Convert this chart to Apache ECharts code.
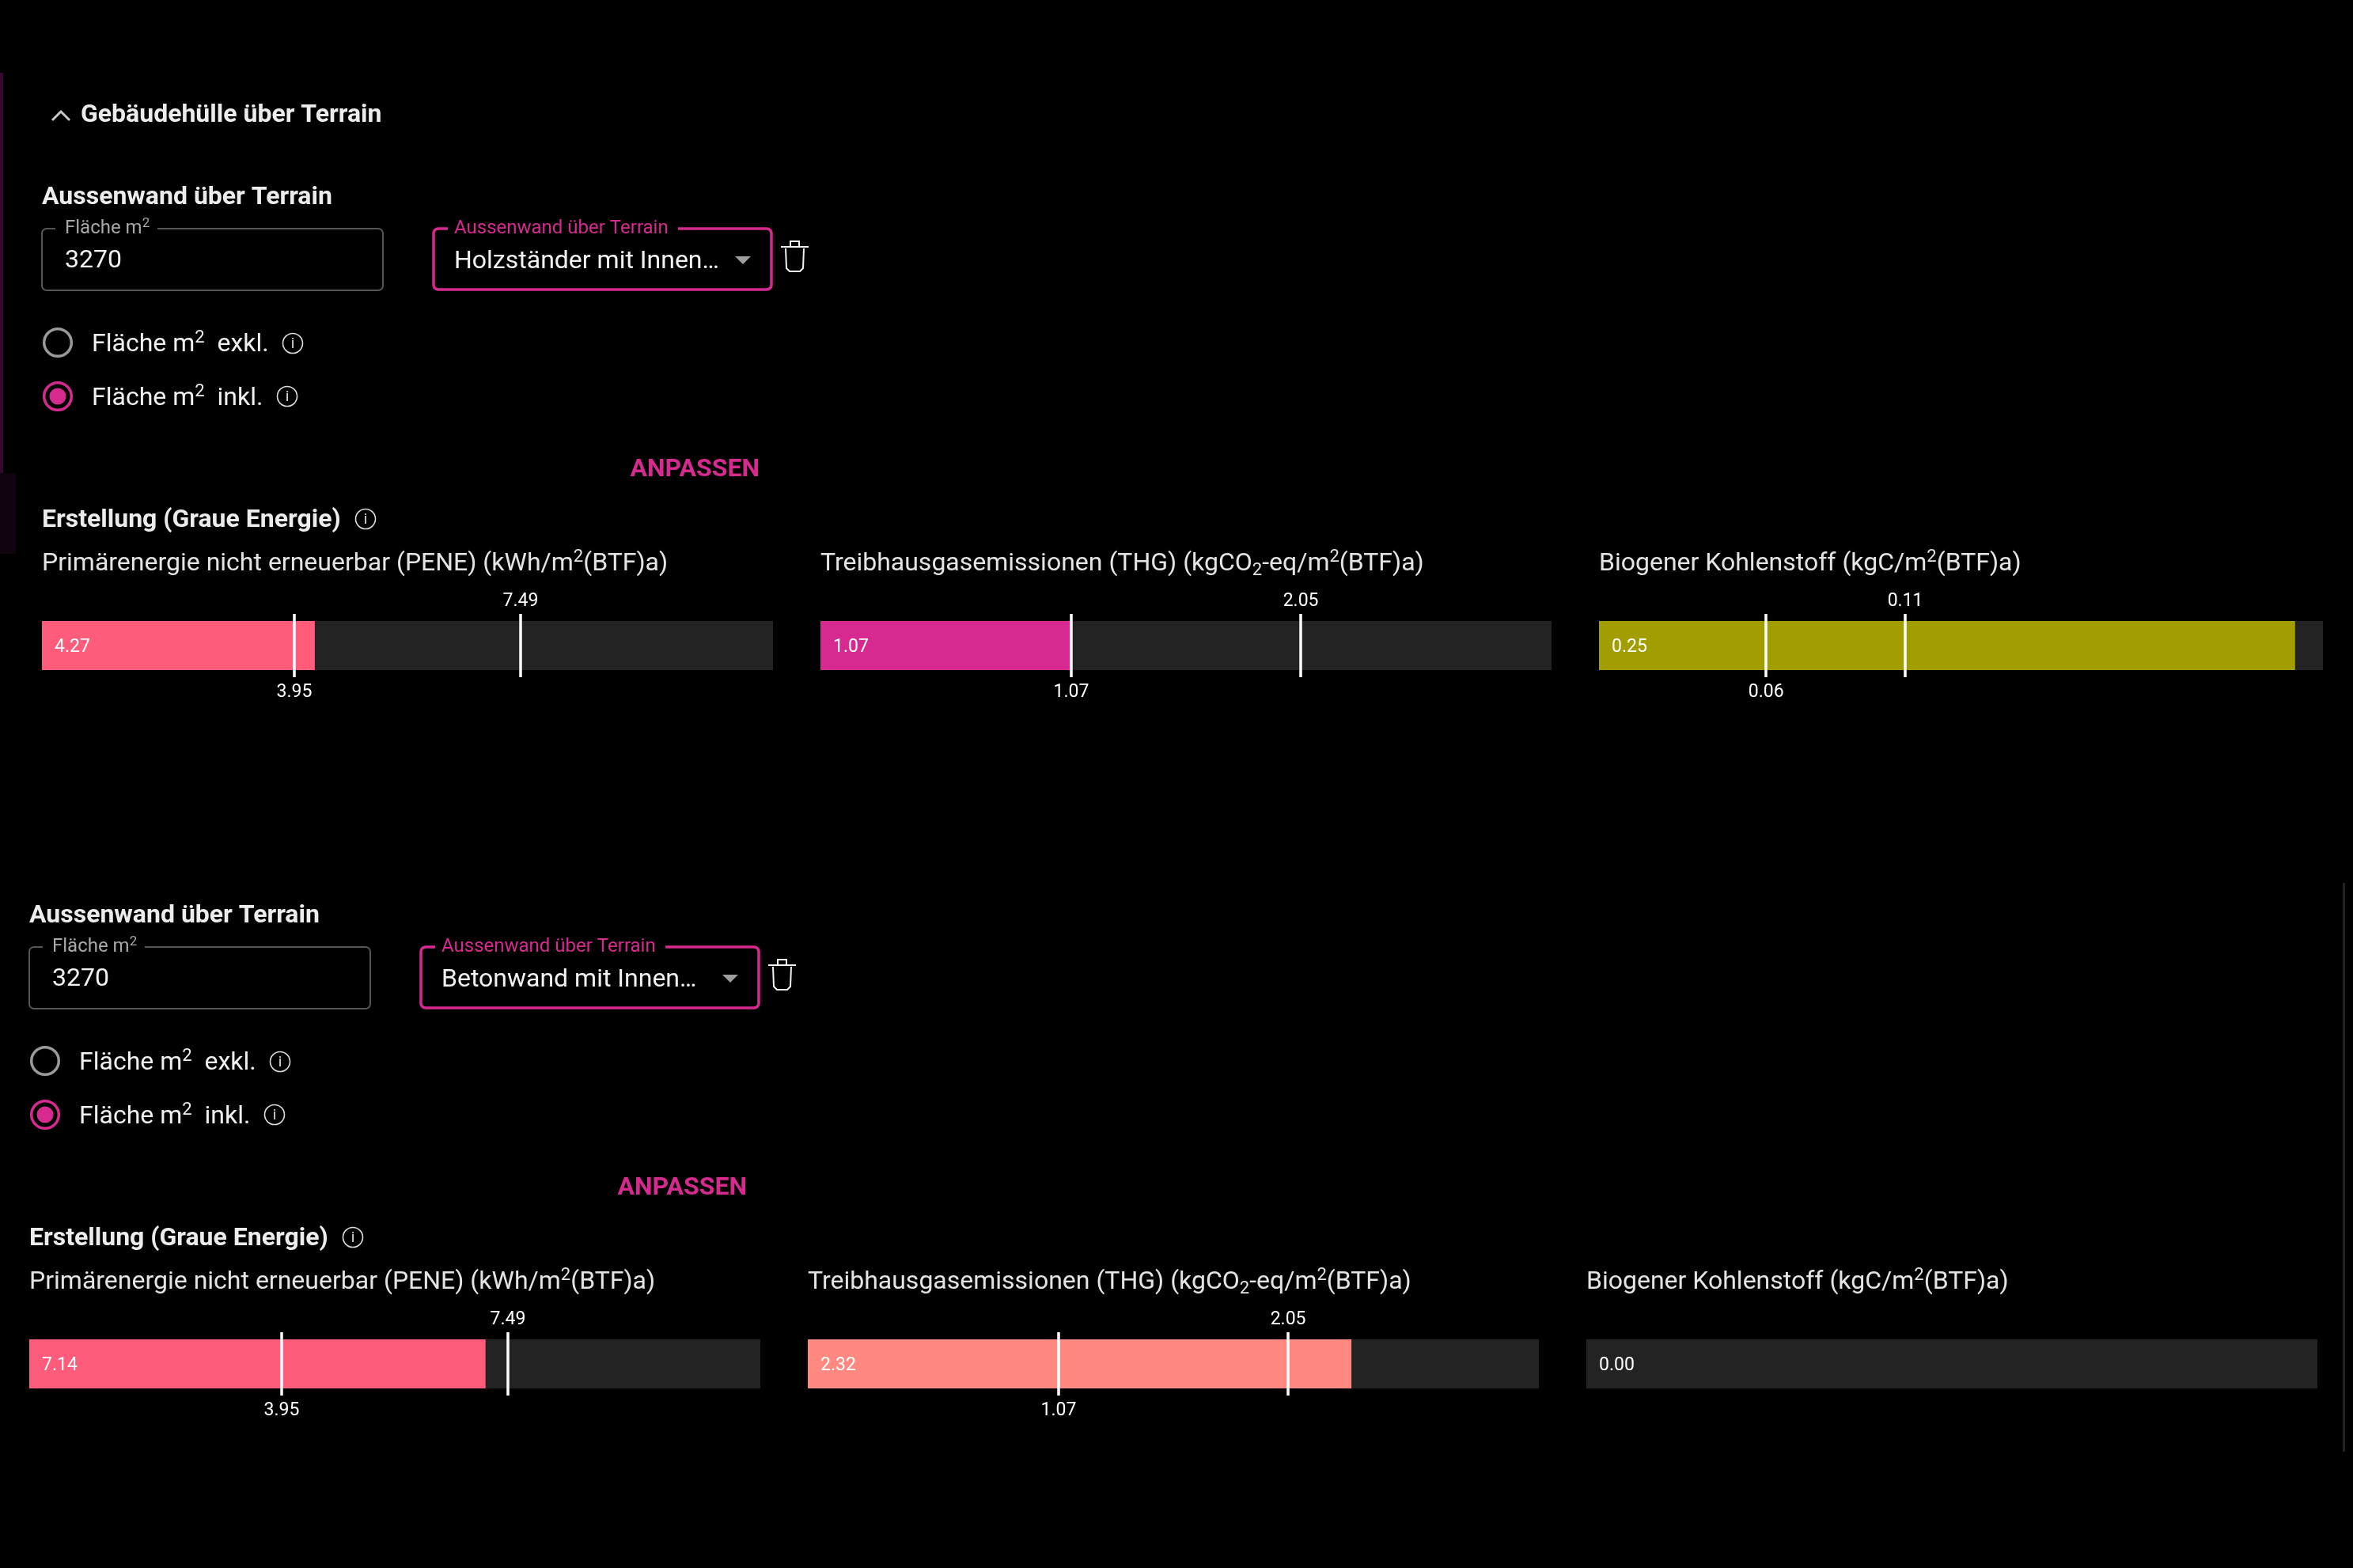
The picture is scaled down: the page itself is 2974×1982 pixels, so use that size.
<!DOCTYPE html>
<html>
<head>
<meta charset="utf-8">
<title>Gebäudehülle über Terrain</title>
<script src="https://cdn.jsdelivr.net/npm/echarts@6/dist/echarts.min.js"></script>
<style>
    html, body { margin: 0; padding: 0; background: #000; }
    #main { width: 2974px; height: 1982px; }
</style>
</head>
<body>
<div id="main"></div>
<script>
// Daten: eine Zeile pro Bauteil, eine Spalte pro Kennzahl (PENE, THG, Biogen)
var sectionTitle = 'Gebäudehülle über Terrain';
var partTitle = 'Aussenwand über Terrain';
var areaValues = ['3270', '3270'];
var wallTypes = ['Holzständer mit Innen…', 'Betonwand mit Innen…'];
var metricTitles = [
    'Primärenergie nicht erneuerbar (PENE) (kWh/m{sup|2}(BTF)a)',
    'Treibhausgasemissionen (THG) (kgCO{sub|2}-eq/m{sup|2}(BTF)a)',
    'Biogener Kohlenstoff (kgC/m{sup|2}(BTF)a)'
];
var barValues = [[4.27, 1.07, 0.25], [7.14, 2.32, 0.00]];
var lowMarks = [[3.95, 1.07, 0.06], [3.95, 1.07, null]];
var highMarks = [[7.49, 2.05, 0.11], [7.49, 2.05, null]];
var axisMax = [[11.44, 3.12, 0.26], [11.44, 3.12, 0.26]];
var barColors = [['#ff5c7b', '#d62a90', '#a29d00'], ['#ff5c7b', '#ff8880', '#a29d00']];

var MAGENTA = '#d62a8f';
var FONT = 'Roboto';

var colLeft = [53, 1037, 2021];
var colWidth = [[924, 924, 915], [924, 924, 924]];
var rowShift = [[0, 0], [-16, 908]];

function richFor(size, color) {
    var lh = Math.round(size * 1.22);
    var small = Math.round(size * 0.7);
    return {
        lineHeight: lh,
        rich: {
            sup: { font: small + 'px ' + FONT, fill: color, lineHeight: lh - 0.72 * size, verticalAlign: 'top' },
            sub: { font: small + 'px ' + FONT, fill: color, lineHeight: lh - 0.6 * size, verticalAlign: 'bottom' }
        }
    };
}

function txt(x, y, text, size, color, weight, align) {
    var st = {
        x: x, y: y + 3, text: text,
        font: (weight || 'normal') + ' ' + size + 'px ' + FONT,
        fill: color,
        align: align || 'left', textAlign: align || 'left',
        verticalAlign: 'middle', textVerticalAlign: 'middle'
    };
    if (text.indexOf('{') >= 0) {
        var r = richFor(size, color);
        st.lineHeight = r.lineHeight;
        st.rich = r.rich;
    }
    return { type: 'text', silent: true, style: st };
}

// Umrandung mit Lücke für das schwebende Label (abgerundete Ecken als Polylinie)
function outlined(x, y, w, h, r, gapL, gapR, color, lw) {
    var pts = [[gapR, y]];
    function corner(cx, cy, a0) {
        for (var k = 0; k <= 6; k++) {
            var a = (a0 + k * 15) * Math.PI / 180;
            pts.push([cx + r * Math.cos(a), cy + r * Math.sin(a)]);
        }
    }
    corner(x + w - r, y + r, -90);
    corner(x + w - r, y + h - r, 0);
    corner(x + r, y + h - r, 90);
    corner(x + r, y + r, 180);
    pts.push([gapL, y]);
    return { type: 'polyline', silent: true, shape: { points: pts }, style: { fill: null, stroke: color, lineWidth: lw } };
}

function info(cx, cy) {
    return [
        { type: 'circle', silent: true, shape: { cx: cx, cy: cy, r: 12.5 }, style: { fill: null, stroke: '#dcdcdc', lineWidth: 1.6 } },
        txt(cx, cy - 2, 'i', 19, '#dcdcdc', 'normal', 'center')
    ];
}

function blockGraphics(r) {
    var dx = rowShift[r][0], dy = rowShift[r][1];
    var g = [];
    g.push(txt(53 + dx, 247 + dy, partTitle, 32, '#ececec', 'bold'));
    // Eingabefeld Fläche
    g.push(outlined(53 + dx, 289 + dy, 431, 78, 6, 70 + dx, 199 + dx, '#555', 2));
    g.push(txt(82 + dx, 286 + dy, 'Fläche m{sup|2}', 24, '#a8a8a8'));
    g.push(txt(82 + dx, 327 + dy, areaValues[r], 32, '#f2f2f2'));
    // Auswahlfeld
    g.push(outlined(548 + dx, 289 + dy, 427, 77, 6, 566 + dx, 857 + dx, MAGENTA, 3.5));
    g.push(txt(574 + dx, 286 + dy, partTitle, 24, MAGENTA));
    g.push(txt(574 + dx, 328 + dy, wallTypes[r], 32, '#f2f2f2'));
    g.push({ type: 'polygon', silent: true, shape: { points: [[929 + dx, 324 + dy], [949 + dx, 324 + dy], [939 + dx, 334 + dy]] }, style: { fill: '#9e9e9e' } });
    // Papierkorb
    var ts = { fill: null, stroke: '#f2f2f2', lineWidth: 2 };
    g.push({ type: 'polyline', silent: true, shape: { points: [[987 + dx, 312 + dy], [1022 + dx, 312 + dy]] }, style: ts });
    g.push({ type: 'polyline', silent: true, shape: { points: [[999 + dx, 312 + dy], [999 + dx, 305 + dy], [1010 + dx, 305 + dy], [1010 + dx, 312 + dy]] }, style: ts });
    g.push({ type: 'polyline', silent: true, shape: { points: [[993 + dx, 314 + dy], [994 + dx, 339 + dy], [998 + dx, 343 + dy], [1011 + dx, 343 + dy], [1015 + dx, 339 + dy], [1016 + dx, 314 + dy]] }, style: ts });
    // Radiobuttons
    g.push({ type: 'circle', silent: true, shape: { cx: 73 + dx, cy: 433 + dy, r: 17.3 }, style: { fill: null, stroke: '#9a9a9a', lineWidth: 3.5 } });
    g.push(txt(116 + dx, 433 + dy, 'Fläche m{sup|2}  exkl.', 32, '#f0f0f0'));
    g = g.concat(info(370 + dx, 434 + dy));
    g.push({ type: 'circle', silent: true, shape: { cx: 73 + dx, cy: 501 + dy, r: 17.3 }, style: { fill: null, stroke: MAGENTA, lineWidth: 3.5 } });
    g.push({ type: 'circle', silent: true, shape: { cx: 73 + dx, cy: 501 + dy, r: 10.5 }, style: { fill: MAGENTA } });
    g.push(txt(116 + dx, 501 + dy, 'Fläche m{sup|2}  inkl.', 32, '#f0f0f0'));
    g = g.concat(info(363 + dx, 501 + dy));
    g.push(txt(960 + dx, 591 + dy, 'ANPASSEN', 32, MAGENTA, 'bold', 'right'));
    g.push(txt(53 + dx, 655 + dy, 'Erstellung (Graue Energie)', 32, '#ececec', 'bold'));
    g = g.concat(info(462 + dx, 656 + dy));
    for (var c = 0; c < 3; c++) {
        g.push(txt(colLeft[c] + dx, 710 + dy, metricTitles[c], 32, '#e4e4e4'));
    }
    return g;
}

var graphics = [
    { type: 'rect', silent: true, shape: { x: 0, y: 92, width: 4, height: 506 }, style: { fill: '#330b2e' } },
    { type: 'rect', silent: true, shape: { x: 0, y: 598, width: 20, height: 102 }, style: { fill: '#100410' } },
    { type: 'rect', silent: true, shape: { x: 2961, y: 1116, width: 3, height: 719 }, style: { fill: '#222' } },
    { type: 'polyline', silent: true, shape: { points: [[66, 152], [77, 141], [88, 152]] }, style: { fill: null, stroke: '#c8c8c8', lineWidth: 3 } },
    txt(102, 143, sectionTitle, 32, '#ececec', 'bold')
].concat(blockGraphics(0), blockGraphics(1));

var grids = [], xAxes = [], yAxes = [], series = [];
for (var r = 0; r < 2; r++) {
    for (var c = 0; c < 3; c++) {
        var i = grids.length;
        grids.push({
            left: colLeft[c] + rowShift[r][0], top: 776 + rowShift[r][1],
            width: colWidth[r][c], height: 80, containLabel: false
        });
        xAxes.push({ type: 'value', gridIndex: i, min: 0, max: axisMax[r][c], show: false });
        yAxes.push({ type: 'category', gridIndex: i, data: ['m' + c], show: false });
        var marks = [];
        if (lowMarks[r][c] != null) marks.push({ xAxis: lowMarks[r][c], label: { position: 'start', distance: 8 } });
        if (highMarks[r][c] != null) marks.push({ xAxis: highMarks[r][c], label: { position: 'end', distance: 4 } });
        series.push({
            type: 'bar',
            xAxisIndex: i, yAxisIndex: i,
            data: [barValues[r][c]],
            barWidth: 62,
            showBackground: true,
            backgroundStyle: { color: '#232323' },
            itemStyle: { color: barColors[r][c] },
            label: {
                show: true, position: 'insideLeft', distance: 16, offset: [0, 2],
                color: '#fff', fontSize: 23, fontFamily: FONT,
                formatter: function (p) { return p.value.toFixed(2); }
            },
            markLine: {
                silent: true,
                symbol: 'none',
                lineStyle: { color: '#fff', width: 3.5, type: 'solid' },
                label: {
                    show: true, color: '#fff', fontSize: 23, fontFamily: FONT,
                    formatter: function (p) { return Number(p.value).toFixed(2); }
                },
                data: marks
            }
        });
    }
}

var myChart = echarts.init(document.getElementById('main'));
var option = {
    backgroundColor: '#000',
    animation: false,
    grid: grids,
    xAxis: xAxes,
    yAxis: yAxes,
    series: series,
    graphic: { elements: graphics }
};
myChart.setOption(option);
</script>
</body>
</html>
